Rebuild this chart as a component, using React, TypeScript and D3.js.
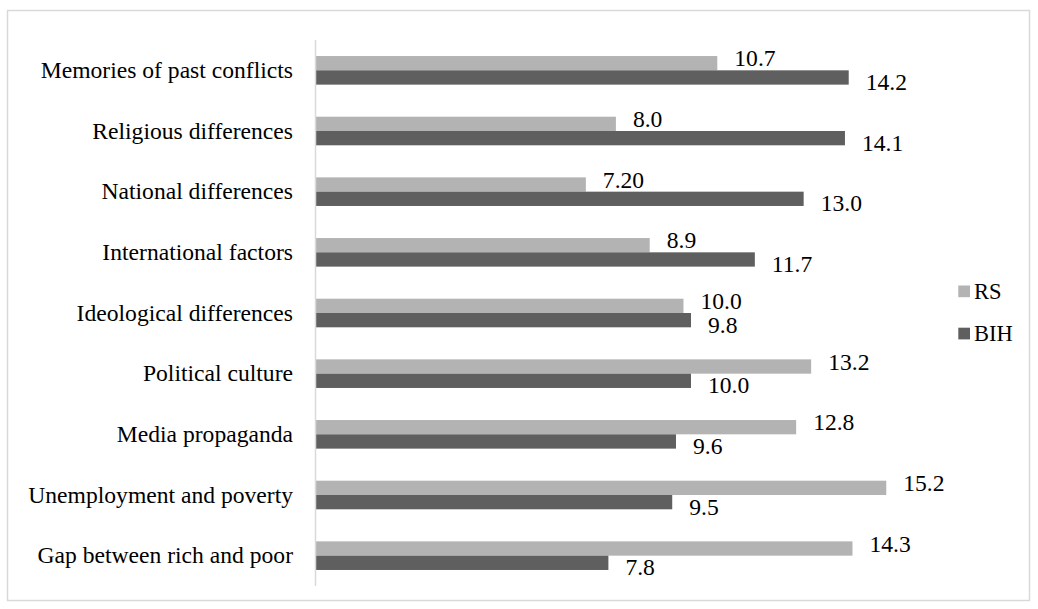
import React from "react";
import * as d3 from "d3";

const categories = [
  "Memories of past conflicts",
  "Religious differences",
  "National differences",
  "International factors",
  "Ideological differences",
  "Political culture",
  "Media propaganda",
  "Unemployment and poverty",
  "Gap between rich and poor",
];
// bar lengths as drawn
const rsValues = [10.7, 8.0, 7.2, 8.9, 9.8, 13.2, 12.8, 15.2, 14.3];
const bihValues = [14.2, 14.1, 13.0, 11.7, 10.0, 10.0, 9.6, 9.5, 7.8];
// data label texts as printed
const rsLabels = ["10.7", "8.0", "7.20", "8.9", "10.0", "13.2", "12.8", "15.2", "14.3"];
const bihLabels = ["14.2", "14.1", "13.0", "11.7", "9.8", "10.0", "9.6", "9.5", "7.8"];
const seriesNames = ["RS", "BIH"];
const colors = ["#b3b3b3", "#5f5f5f"];

const W = 1038;
const H = 609;

export default function App() {
  const x = d3.scaleLinear().domain([0, 16]).range([315.5, 315.5 + 16 * 37.55]);
  const y = d3.scaleBand().domain(categories).range([40, 586]).paddingInner(0).paddingOuter(0);
  const barH = 14.3;

  return (
    <svg width={W} height={H} style={{ position: "absolute", left: 0, top: 0 }}>
      <rect x={7.5} y={10.5} width={1022} height={590} fill="#fff" stroke="#d9d9d9" strokeWidth={1.5} />
      {categories.map((c, i) => {
        const cy = (y(c) as number) + y.bandwidth() / 2;
        const rsY = cy - barH;
        const bihY = cy;
        return (
          <g key={c}>
            <rect x={x(0)} y={rsY} width={x(rsValues[i]) - x(0)} height={barH} fill={colors[0]} />
            <rect x={x(0)} y={bihY} width={x(bihValues[i]) - x(0)} height={barH} fill={colors[1]} />
            <text x={293} y={cy + 7.5} textAnchor="end" fontFamily="Liberation Serif" fontSize={23.6}>{c}</text>
            <text x={x(rsValues[i]) + 17} y={rsY + barH / 2 + 3} fontFamily="Liberation Serif" fontSize={23.6}>{rsLabels[i]}</text>
            <text x={x(bihValues[i]) + 17} y={bihY + barH / 2 + 12.5} fontFamily="Liberation Serif" fontSize={23.6}>{bihLabels[i]}</text>
          </g>
        );
      })}
      <line x1={x(0)} x2={x(0)} y1={40} y2={586} stroke="#d9d9d9" strokeWidth={1.5} />
      {seriesNames.map((s, i) => (
        <g key={s}>
          <rect x={958.3} y={285.5 + i * 42.2} width={11.7} height={11.7} fill={colors[i]} />
          <text x={974} y={298.5 + i * 42.2} fontFamily="Liberation Serif" fontSize={22.5}>{s}</text>
        </g>
      ))}
    </svg>
  );
}
